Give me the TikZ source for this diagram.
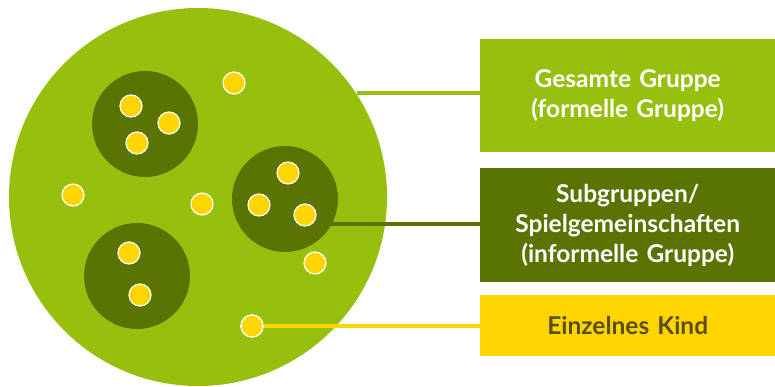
\documentclass[tikz,border=0pt]{standalone}
\usepackage{fontspec}
\setmainfont{Lato}
\definecolor{lgreen}{HTML}{97BF0D}
\definecolor{dgreen}{HTML}{5A7404}
\definecolor{kidyellow}{HTML}{FFD500}
\definecolor{kidtext}{HTML}{5A4E08}
\begin{document}
\begin{tikzpicture}[x=1pt,y=-1pt,
  big/.style={circle,fill=lgreen,minimum size=378pt,inner sep=0pt},
  sub/.style={circle,fill=dgreen,minimum size=106pt,inner sep=0pt},
  kid/.style={circle,fill=kidyellow,draw=white,line width=1.2pt,minimum size=22pt,inner sep=0pt},
  label/.style={anchor=north west,inner sep=0pt,text width=295pt,align=center,font=\bfseries\fontsize{24.5}{30}\selectfont},
  link/.style={line width=4pt}]
\useasboundingbox (0,0) rectangle (775,387);
\node[big] (g) at (198,197) {};
\node[sub] (s1) at (145,124) {};
\node[sub] (s2) at (285,199) {};
\node[sub] (s3) at (137,276) {};
% boxes
\node[label,fill=lgreen,text=white,minimum height=113pt] (b1) at (480,39) {Gesamte Gruppe\\(formelle Gruppe)};
\node[label,fill=dgreen,text=white,minimum height=114pt] (b2) at (480,168) {Subgruppen/\\Spielgemeinschaften\\(informelle Gruppe)};
\node[label,fill=kidyellow,text=kidtext,minimum height=61pt] (b3) at (480,295) {Einzelnes Kind};
% connectors
\coordinate (c1) at (357,93);
\coordinate (c2) at (330,224);
\draw[link,lgreen] (c1) -- (c1 -| b1.west);
\draw[link,dgreen] (c2) -- (c2 -| b2.west);
\node[kid] (k13) at (252,326) {};
\draw[link,kidyellow,line width=3.5pt] (k13.east) -- (k13.east -| b3.west);
% children
\node[kid] (k1) at (234,83) {};
\node[kid] (k2) at (131,106) {};
\node[kid] (k3) at (169,123) {};
\node[kid] (k4) at (137,143) {};
\node[kid] (k5) at (73,195) {};
\node[kid] (k6) at (202,204) {};
\node[kid] (k7) at (288,173) {};
\node[kid] (k8) at (259,205) {};
\node[kid] (k9) at (305,215) {};
\node[kid] (k10) at (129,253) {};
\node[kid] (k11) at (140,295) {};
\node[kid] (k12) at (315,263) {};
\node[kid] at (252,326) {};
\end{tikzpicture}
\end{document}
